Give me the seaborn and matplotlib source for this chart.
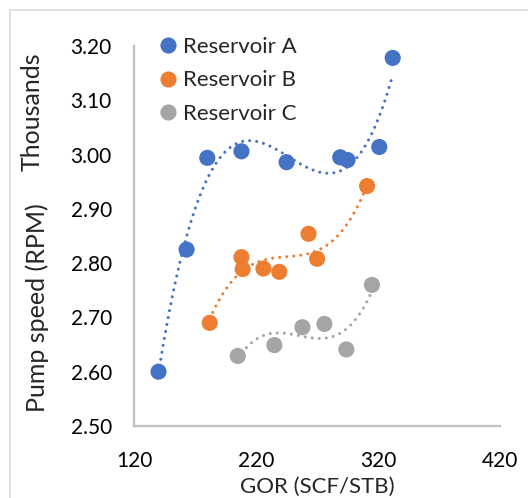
import numpy as np
import pandas as pd
import matplotlib
matplotlib.use("Agg")
import matplotlib.pyplot as plt
from matplotlib.patches import Rectangle
from matplotlib.ticker import FuncFormatter, MultipleLocator
import seaborn as sns

# data (GOR in SCF/STB, pump speed in RPM)
gor_a = [140, 163, 180, 208, 245, 289, 295, 321, 332]
rpm_a = [2600, 2825, 2994, 3006, 2986, 2995, 2990, 3014, 3178]
gor_b = [182, 208, 209, 226, 239, 263, 270, 311]
rpm_b = [2690, 2811, 2789, 2790, 2784, 2854, 2808, 2942]
gor_c = [205, 235, 258, 276, 294, 315]
rpm_c = [2629, 2649, 2682, 2688, 2641, 2760]

names = ["Reservoir A", "Reservoir B", "Reservoir C"]
colors = ["#4472C4", "#ED7D31", "#A5A5A5"]
orders = [4, 3, 3]  # polynomial trendline order
x_ticks = [120, 220, 320, 420]

df = pd.concat([
    pd.DataFrame({"GOR": gor_a, "RPM": rpm_a, "Reservoir": names[0]}),
    pd.DataFrame({"GOR": gor_b, "RPM": rpm_b, "Reservoir": names[1]}),
    pd.DataFrame({"GOR": gor_c, "RPM": rpm_c, "Reservoir": names[2]}),
], ignore_index=True)

sns.set_style("white")
plt.rcParams["font.family"] = ["Lato", "DejaVu Sans"]

fig = plt.figure(figsize=(5.28, 4.98), dpi=100)
# light chart-area border
fig.patches.append(Rectangle((10 / 528, -0.2), 1.2, 1.2 - 10 / 498,
                             transform=fig.transFigure, fill=False,
                             edgecolor="#D9D9D9", linewidth=1.2))
ax = fig.add_axes([0.254, 0.1446, 0.693, 0.763])

# dotted polynomial trendlines
for name, col, o in zip(names, colors, orders):
    sub = df[df["Reservoir"] == name]
    sns.regplot(data=sub, x="GOR", y="RPM", ax=ax, scatter=False, order=o,
                ci=None, truncate=True, color=col,
                line_kws=dict(linestyle=(0, (0.01, 2.3)), linewidth=2.2,
                              dash_capstyle="round"))

sns.scatterplot(data=df, x="GOR", y="RPM", hue="Reservoir", palette=colors,
                s=135, linewidth=0, ax=ax, zorder=3)

ax.set_xlim(120, 420)
ax.set_ylim(2500, 3200)
ax.set_xticks(x_ticks)
ax.yaxis.set_major_locator(MultipleLocator(100))
ax.yaxis.set_major_formatter(FuncFormatter(lambda v, p: f"{v / 1000:.2f}"))
ax.tick_params(length=0, labelsize=15, colors="black")
ax.tick_params(axis="y", pad=16)
ax.tick_params(axis="x", pad=18)
for s in ["top", "right"]:
    ax.spines[s].set_visible(False)
for s in ["left", "bottom"]:
    ax.spines[s].set_color("#BFBFBF")
    ax.spines[s].set_linewidth(1.6)

ax.set_xlabel("GOR (SCF/STB)", fontsize=16, labelpad=4)
ax.set_ylabel("")
fig.text(37 / 528, 1 - 308 / 498, "Pump speed (RPM)", rotation=90,
         ha="center", va="center", fontsize=18)
fig.text(32 / 528, 1 - 112 / 498, "Thousands", rotation=90,
         ha="center", va="center", fontsize=18)

ax.legend(loc="upper left", bbox_to_anchor=(157 / 528, 1 - 37 / 498),
          bbox_transform=fig.transFigure, frameon=False, fontsize=16,
          borderaxespad=0, borderpad=0, handlelength=1.0, handletextpad=0.15,
          labelspacing=0.6)

fig.savefig("out.png", dpi=100)
